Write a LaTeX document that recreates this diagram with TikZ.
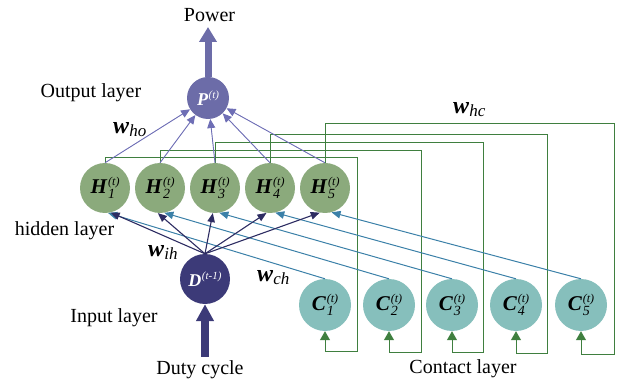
\documentclass[tikz,border=0pt]{standalone}
\usepackage{fontspec}
\setmainfont{Liberation Serif}
\usetikzlibrary{arrows.meta}

\definecolor{outc}{HTML}{6C6CA8}
\definecolor{inc}{HTML}{3C3A78}
\definecolor{hidc}{HTML}{8BAA7C}
\definecolor{conc}{HTML}{86BFBC}
\definecolor{loopc}{HTML}{3F7F3F}
\definecolor{chc}{HTML}{3B80A8}
\definecolor{ihc}{HTML}{2D2C62}
\definecolor{hoc}{HTML}{6E6EB5}

% unit label: bold italic letter, italic subscript and superscript
\newcommand{\unitlbl}[3]{{\fontsize{21}{21}\selectfont\textbf{\textit{#1}}}\kern0.8pt\rlap{\raisebox{-4.5pt}{\fontsize{14}{14}\selectfont\textit{#2}}}\raisebox{8pt}{\fontsize{12}{12}\selectfont\textit{#3}}}
% smaller variant for the output and input units
\newcommand{\unitlblsm}[2]{{\fontsize{18}{18}\selectfont\textbf{\textit{#1}}}\kern0.5pt\raisebox{7pt}{\fontsize{11}{11}\selectfont\textit{#2}}}
% weight label: bold italic w with italic subscript
\newcommand{\wlbl}[1]{{\fontsize{24}{24}\selectfont\textbf{\textit{w}}}\raisebox{-3pt}{\fontsize{17}{17}\selectfont\textit{#1}}}

\tikzset{
  neuron/.style={circle, inner sep=0pt, draw=none, minimum size=50pt},
  lbl/.style={inner sep=0pt, font=\fontsize{20}{20}\selectfont},
  hoarrow/.style={draw=hoc, line width=0.9pt, -{Triangle[length=9pt,width=8pt]}, fill=hoc},
  iharrow/.style={draw=ihc, line width=1.1pt, -{Triangle[length=9pt,width=7.5pt]}},
  charrow/.style={draw=chc, line width=1pt, -{Triangle[length=9pt,width=7.5pt]}},
  fbline/.style={draw=loopc, line width=1pt, -{Triangle[length=9pt,width=10pt]}},
}

\begin{document}
\begin{tikzpicture}[x=1pt,y=-1pt]
\useasboundingbox (0,0) rectangle (622,382);

% output unit
\node[neuron, fill=outc, minimum size=42pt, text=white] (P) at (208,98) {\unitlblsm{P}{(t)}};

% hidden units
\foreach \i in {1,...,5}{
  \node[neuron, fill=hidc] (H\i) at ({105+55*(\i-1)},188) {\unitlbl{H}{\i}{(t)}};
}

% input unit
\node[neuron, fill=inc, text=white] (D) at (205,279) {\unitlblsm{D}{(t-1)}};

% context units
\node[neuron, fill=conc, minimum size=52pt] (C1) at (325,305) {\unitlbl{C}{1}{(t)}};
\node[neuron, fill=conc, minimum size=52pt] (C2) at (389,305) {\unitlbl{C}{2}{(t)}};
\node[neuron, fill=conc, minimum size=52pt] (C3) at (452,305) {\unitlbl{C}{3}{(t)}};
\node[neuron, fill=conc, minimum size=52pt] (C4) at (516,305) {\unitlbl{C}{4}{(t)}};
\node[neuron, fill=conc, minimum size=52pt] (C5) at (581,305) {\unitlbl{C}{5}{(t)}};

% text labels
\node[lbl, anchor=base] (pw) at (209.5,22) {Power};
\node[lbl, anchor=base] (outl) at (91,98) {Output layer};
\node[lbl, anchor=base] (hidl) at (64.5,236) {hidden layer};
\node[lbl, anchor=base] (inl) at (114,323) {Input layer};
\node[lbl, anchor=base] (duty) at (200,375) {Duty cycle};
\node[lbl, anchor=base] (conl) at (463,374) {Contact layer};

\node[inner sep=0pt, anchor=base west] (who) at (113,134) {\wlbl{ho}};
\node[inner sep=0pt, anchor=base west] (wih) at (148,257) {\wlbl{ih}};
\node[inner sep=0pt, anchor=base west] (wch) at (257,282) {\wlbl{ch}};
\node[inner sep=0pt, anchor=base west] (whc) at (453,114) {\wlbl{hc}};

% thick input and output arrows
\coordinate (pwtip) at (208,27);
\coordinate (dutytail) at (205,357);
\draw[draw=outc, line width=7pt, -{Triangle[length=15pt,width=17pt]}] (P.north) -- (pwtip);
\draw[draw=inc, line width=7.5pt, -{Triangle[length=17pt,width=17pt]}] (dutytail) -- (D.south);

% hidden -> context feedback loops
\draw[fbline] (H1.north) |- (357,158) -- (357,352) -| (C1.south);
\draw[fbline] (H2.north) |- (421,151) -- (421,352.5) -| (C2.south);
\draw[fbline] (H3.north) |- (483,143) -- (483,353) -| (C3.south);
\draw[fbline] (H4.north) |- (547,135) -- (547,354) -| (C4.south);
\draw[fbline] (H5.north) |- (614,123.5) -- (614,355) -| (C5.south);

% hidden -> output
\foreach \i in {1,...,5}{
  \draw[hoarrow] (H\i.north) -- (P);
}

% context -> hidden
\draw[charrow] (C1.north) -- (H1.277);
\draw[charrow] (C2.north) -- (H2.280);
\draw[charrow] (C3.north) -- (H3.280);
\draw[charrow] (C4.north) -- (H4.282);
\draw[charrow] (C5.north) -- (H5.285);

% input -> hidden
\draw[iharrow] (D.north) -- (H1.283);
\draw[iharrow] (D.north) -- (H2.265);
\draw[iharrow] (D.north) -- (H3.265);
\draw[iharrow] (D.north) -- (H4.262);
\draw[iharrow] (D.north) -- (H5.258);
\end{tikzpicture}
\end{document}
